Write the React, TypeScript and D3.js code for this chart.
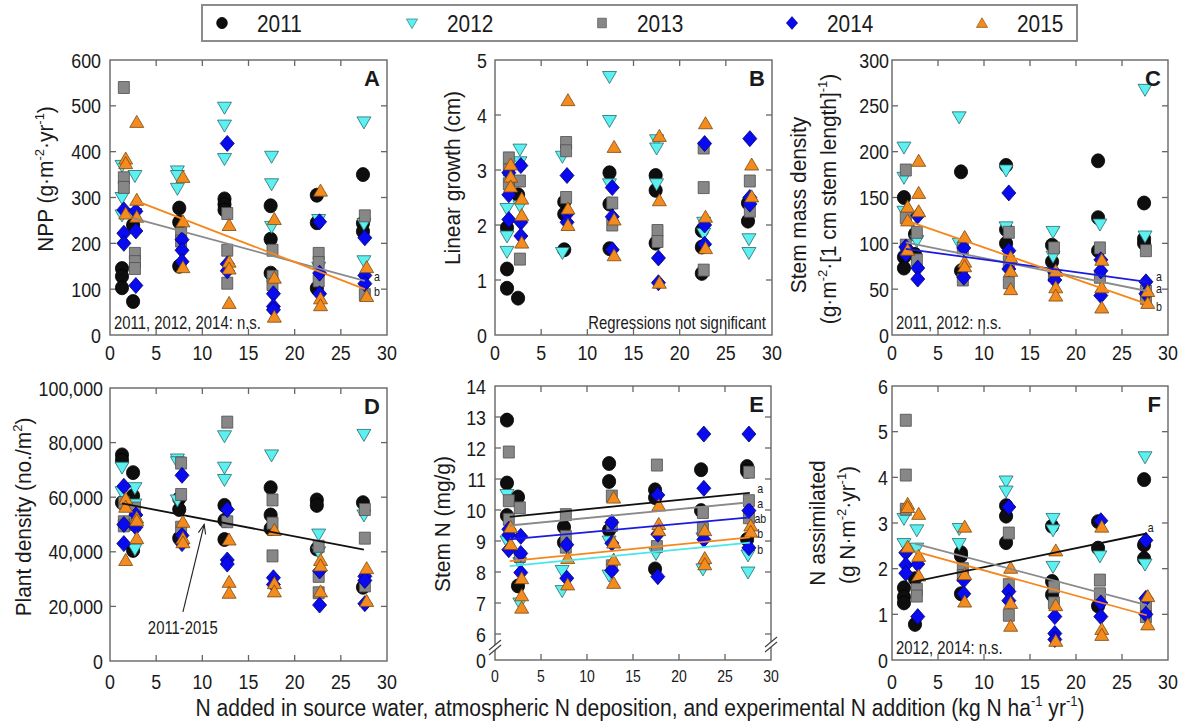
import React from 'react';
import * as d3 from 'd3';

// ---------- data ----------
const YEARS = ['2011', '2012', '2013', '2014', '2015'];

// N input (kg N ha-1 yr-1) of the seven treatment groups, per year
const X_2011 = [1.3, 2.5, 7.5, 12.4, 17.4, 22.4, 27.4];
const X_2012 = [1.3, 2.7, 7.3, 12.4, 17.5, 22.6, 27.5];
const X_2013 = [1.5, 2.7, 7.7, 12.7, 17.6, 22.6, 27.6];
const X_2014 = [1.5, 2.8, 7.8, 12.7, 17.7, 22.7, 27.6];
const X_2015 = [1.7, 2.9, 7.9, 12.9, 17.8, 22.8, 27.8];
const X_BY_YEAR = [X_2011, X_2012, X_2013, X_2014, X_2015];
const X_TICKS = [0, 5, 10, 15, 20, 25, 30];

// A: NPP (g m-2 yr-1), replicate values per group
const NPP_2011 = [[145, 128, 103], [240, 73], [277, 246, 150], [297, 285, 273], [282, 209, 135], [305, 245, 102], [350, 244, 226]];
const NPP_2012 = [[370, 300, 262], [348, 265], [358, 348, 320], [497, 458, 385], [390, 330, 237], [252, 148], [465, 243, 162]];
const NPP_2013 = [[540, 343, 322], [178, 160, 145], [222, 205], [265, 185, 113], [185, 128, 110], [178, 158, 118], [260, 88]];
const NPP_2014 = [[273, 222, 200], [270, 227, 108], [208, 185, 160], [418, 155, 140], [90, 62, 55], [247, 135, 90], [212, 130, 112]];
const NPP_2015 = [[385, 375, 265], [465, 295, 258], [345, 248, 148], [240, 160, 145, 70], [253, 125, 40], [315, 80, 65], [148, 85]];

// B: linear growth (cm)
const LG_2011 = [[1.95, 1.2, 0.85], [2.55, 0.67], [2.42, 2.2, 1.55], [2.95, 2.38, 1.57], [2.9, 2.63, 1.67], [1.9, 1.6, 1.12], [2.4, 2.07]];
const LG_2012 = [[2.3, 1.8, 1.52], [3.38, 3.15, 2.35], [3.25, 1.5], [4.7, 3.9, 2.75], [3.55, 3.4, 2.75], [2.05, 1.85], [1.75, 1.5]];
const LG_2013 = [[3.22, 3.0, 2.75], [2.8, 1.38], [3.5, 3.35, 2.5], [2.4, 2.0], [1.9, 1.7], [3.4, 2.68, 1.18], [2.8, 2.25]];
const LG_2014 = [[2.95, 2.55, 2.1], [3.08, 2.05, 1.8], [2.9, 2.2, 2.05], [2.68, 2.15, 1.55], [1.4, 0.95], [3.48, 2.0, 1.65], [3.57, 2.5, 2.38]];
const LG_2015 = [[3.1, 2.88, 2.7], [2.48, 2.18, 1.68], [4.27, 2.3, 2.0], [3.42, 2.1, 1.45], [3.62, 2.45, 0.95], [3.85, 2.15, 1.58], [3.1, 2.52]];

// C: stem mass density
const SMD_2011 = [[150, 85, 73], [110, 88], [178, 70], [185, 115, 100], [98, 80], [190, 128, 92], [144, 105, 100]];
const SMD_2012 = [[205, 172, 135], [128, 103], [238, 100], [180, 118], [113, 86], [121], [268, 108]];
const SMD_2013 = [[180, 128, 98], [112, 82], [95, 60], [112, 80, 57], [95, 65], [95, 63], [92, 48, 40]];
const SMD_2014 = [[96, 88], [130, 73, 61], [95, 63], [155, 92, 72], [68, 60], [82, 70, 43], [58, 45]];
const SMD_2015 = [[140, 125, 93], [190, 155, 135], [107, 80, 75], [85, 70, 50], [70, 52, 43], [82, 52, 30], [48, 35]];

// D: plant density (no./m2)
const PD_2011 = [[75500, 73500, 58000], [69000, 60500, 40500], [59500, 55500, 45000], [57000, 51500, 44500], [63500, 53500, 48500], [59000, 57000, 41000], [58000, 27000]];
const PD_2012 = [[71000, 62000], [63500, 57500, 41000], [74000, 73000, 59000], [82500, 71000, 66500], [75500], [46500, 40000], [83000, 53500]];
const PD_2013 = [[58000, 51000, 49500], [56000, 50000], [72500, 61000, 49000], [87500, 51000], [59000, 50500, 38500], [42000, 31000, 25000], [55500, 45000, 27500]];
const PD_2014 = [[64000, 50000, 43000], [53500, 49000], [68000, 46000, 43000], [55500, 37000, 35500], [30500, 28000], [33000, 20500], [31000, 29500, 21000]];
const PD_2015 = [[59500, 56500, 37000], [52500, 51500, 45000], [51000, 45000, 43500], [44500, 29000, 25000], [48000, 28500, 25500], [37000, 35000, 25500], [34000, 22000]];

// E: stem N (mg/g)
const SN_2011 = [[12.9, 10.87, 9.82], [10.42, 7.55], [9.45, 8.95], [11.5, 10.92, 9.35], [10.65, 10.4, 8.1], [11.3, 9.98], [11.4, 11.25, 9.05]];
const SN_2012 = [[10.5, 9.0], [8.3, 7.0], [8.05, 7.4], [9.0, 7.9], [8.6], [9.1, 8.1], [8.55, 8.0]];
const SN_2013 = [[11.87, 10.3, 9.7], [10.07, 8.5], [9.85, 9.15, 8.8], [10.45, 9.5, 8.2], [11.45, 8.82], [9.92, 9.4], [11.22, 10.3, 9.75]];
const SN_2014 = [[9.38, 9.2, 8.72], [9.15, 8.6, 7.98], [8.88, 7.8], [9.6, 8.93, 8.05], [10.48, 9.22, 7.85], [12.45, 10.7, 9.05], [12.45, 9.98, 8.78]];
const SN_2015 = [[9.45, 8.9], [7.8, 7.25, 6.85], [8.45, 7.6], [10.4, 8.95, 8.4, 7.65], [10.15, 9.55, 9.35], [9.35, 8.45, 8.25], [9.5, 9.3]];

// F: N assimilated (g N m-2 yr-1)
const NA_2011 = [[1.58, 1.38, 1.25], [1.78, 0.78], [2.35, 2.28, 1.45], [3.38, 3.15, 2.57], [2.93, 1.72, 1.43], [3.03, 2.45, 1.18], [3.95, 2.52, 2.22]];
const NA_2012 = [[3.1, 2.55], [2.85, 2.45], [2.88, 2.55], [3.92, 3.7], [3.1, 2.85, 2.05], [2.28], [4.45, 2.1]];
const NA_2013 = [[5.25, 4.05, 3.3], [1.55, 1.4], [2.0, 1.85], [2.78, 1.65, 0.98], [1.6, 1.25], [1.75, 1.45], [1.2, 0.95]];
const NA_2014 = [[2.35, 2.08, 1.9], [2.1, 0.95], [1.75, 1.45], [3.35, 1.5, 1.3], [0.95, 0.58, 0.45], [3.05, 1.25, 0.95], [2.62, 1.35, 1.0]];
const NA_2015 = [[3.42, 3.35, 2.48], [3.2, 2.28, 1.85], [2.92, 1.88, 1.28], [2.02, 1.25, 0.75], [2.4, 1.2, 0.42], [2.92, 0.68, 0.55], [1.4, 0.78]];

// fitted regression lines: [series, x0, y0, x1, y1]
type Fit = [string, number, number, number, number];
const FIT_A: Fit[] = [['2013', 2.5, 255, 27.6, 118], ['2015', 2.9, 292, 27.6, 100]];
const FIT_C: Fit[] = [['2013', 1.5, 101, 27.7, 48], ['2014', 1.5, 94, 27.7, 58], ['2015', 1.5, 125, 27.7, 34]];
const FIT_D: Fit[] = [['all', 1.3, 57700, 27.5, 40800]];
const FIT_E: Fit[] = [['2011', 1.6, 9.78, 27.7, 10.55], ['2013', 1.6, 9.5, 27.7, 10.25], ['2014', 1.6, 9.05, 27.7, 9.76], ['2015', 1.6, 8.35, 27.7, 9.12], ['2012', 1.6, 8.19, 27.7, 8.95]];
const FIT_F: Fit[] = [['2011', 2.3, 1.71, 27.7, 2.77], ['2013', 2.5, 2.55, 27.7, 1.2], ['2015', 2.5, 2.38, 27.7, 0.98]];

// significance letters: [text, x, y]
type Lt = [string, number, number];
const LET_A: Lt[] = [['a', 28.6, 126], ['b', 28.6, 94]];
const LET_C: Lt[] = [['a', 28.7, 63], ['a', 28.7, 50], ['b', 28.7, 31]];
const LET_E: Lt[] = [['a', 28.5, 10.68], ['a', 28.5, 10.2], ['ab', 28.2, 9.71], ['b', 28.5, 9.22], ['b', 28.5, 8.7]];
const LET_F: Lt[] = [['a', 27.8, 2.9]];

// ---------- styles ----------
const FONT = '"Liberation Sans", Arial, Helvetica, sans-serif';
const TXT = '#1a1a1a';
const FRAME = '#666666';
const MARK: Record<string, { shape: string; fill: string; stroke: string }> = {
  '2011': { shape: 'circle', fill: '#0e0e0e', stroke: '#000000' },
  '2012': { shape: 'tdown', fill: '#5cf0f0', stroke: '#2a6a6c' },
  '2013': { shape: 'square', fill: '#878787', stroke: '#4e4e4e' },
  '2014': { shape: 'diamond', fill: '#0a0aee', stroke: '#000070' },
  '2015': { shape: 'tup', fill: '#f38b1f', stroke: '#7a4a12' },
};
const LINE: Record<string, string> = {
  '2011': '#111111', '2012': '#49e6ea', '2013': '#8a8a8a', '2014': '#1a1ae0', '2015': '#f5871a', all: '#111111',
};

function Marker({ year, cx, cy, k = 1 }: { year: string; cx: number; cy: number; k?: number }) {
  const m = MARK[year];
  const common = { fill: m.fill, stroke: m.stroke, strokeWidth: 0.8 };
  const t = `translate(${cx},${cy}) scale(${k})`;
  switch (m.shape) {
    case 'circle':
      return <ellipse cx={cx} cy={cy} rx={6.6 * k} ry={7 * k} {...common} />;
    case 'tdown':
      return <path transform={t} d="M-7,-5L7,-5L0,7Z" {...common} />;
    case 'square':
      return <path transform={t} d="M-5.5,-6L5.5,-6L5.5,6L-5.5,6Z" {...common} />;
    case 'diamond':
      return <path transform={t} d="M0,-8L7,0L0,8L-7,0Z" {...common} />;
    default:
      return <path transform={t} d="M-7,5.5L7,5.5L0,-6.5Z" {...common} />;
  }
}

type Seg = { t: string; sup?: boolean };
function Rich({ parts, size }: { parts: Seg[]; size: number }) {
  const shift = size * 0.42;
  let up = false;
  return (
    <>
      {parts.map((p, i) => {
        if (p.sup) {
          const el = <tspan key={i} dy={up ? 0 : -shift} fontSize={size * 0.62}>{p.t}</tspan>;
          up = true;
          return el;
        }
        const el = <tspan key={i} dy={up ? shift : 0} fontSize={size}>{p.t}</tspan>;
        up = false;
        return el;
      })}
    </>
  );
}

function HT({ x, y, size, anchor = 'start', weight = 'normal', sx = 0.85, children }: any) {
  return (
    <text transform={`translate(${x},${y}) scale(${sx},1)`} fontSize={size} textAnchor={anchor}
      fontWeight={weight} fill={TXT}>{children}</text>
  );
}
function VT({ x, y, size, sx = 0.95, parts }: { x: number; y: number; size: number; sx?: number; parts: Seg[] }) {
  return (
    <text transform={`translate(${x},${y}) rotate(-90) scale(${sx},1)`} fontSize={size} textAnchor="middle" fill={TXT}>
      <Rich parts={parts} size={size} />
    </text>
  );
}

const PANELS: any[] = [
  {
    key: 'A', left: 110, right: 387, top: 60, bottom: 335, domain: [0, 600], ticks: [0, 100, 200, 300, 400, 500, 600],
    fmt: (d: number) => String(d), gap: 9, series: [NPP_2011, NPP_2012, NPP_2013, NPP_2014, NPP_2015],
    fits: FIT_A, letters: LET_A, xBase: 360, xSize: 21,
    titles: [{ x: 53, y: 179, parts: [{ t: 'NPP (g·m' }, { t: '-2', sup: true }, { t: '·yr' }, { t: '-1', sup: true }, { t: ')' }] }],
    note: { text: '2011, 2012, 2014: n.s.', anchor: 'start' },
  },
  {
    key: 'B', left: 495, right: 772, top: 60, bottom: 335, domain: [0, 5], ticks: [0, 1, 2, 3, 4, 5],
    fmt: (d: number) => String(d), gap: 8, series: [LG_2011, LG_2012, LG_2013, LG_2014, LG_2015],
    fits: [], letters: [], xBase: 360, xSize: 21,
    titles: [{ x: 460, y: 178, parts: [{ t: 'Linear growth (cm)' }] }],
    note: { text: 'Regressions not significant', anchor: 'end' },
  },
  {
    key: 'C', left: 892, right: 1168, top: 60, bottom: 335, domain: [0, 300], ticks: [0, 50, 100, 150, 200, 250, 300],
    fmt: (d: number) => String(d), gap: 3, series: [SMD_2011, SMD_2012, SMD_2013, SMD_2014, SMD_2015],
    fits: FIT_C, letters: LET_C, xBase: 360, xSize: 21,
    titles: [
      { x: 806, y: 205, parts: [{ t: 'Stem mass density' }] },
      { x: 836, y: 199, parts: [{ t: '(g·m' }, { t: '-2', sup: true }, { t: '·[1 cm stem length]' }, { t: '-1', sup: true }, { t: ')' }] },
    ],
    note: { text: '2011, 2012: n.s.', anchor: 'start' },
  },
  {
    key: 'D', left: 110, right: 387, top: 388, bottom: 661, domain: [0, 100000], ticks: [0, 20000, 40000, 60000, 80000, 100000],
    fmt: d3.format(','), gap: 7, series: [PD_2011, PD_2012, PD_2013, PD_2014, PD_2015],
    fits: FIT_D, letters: [], xBase: 689, xSize: 21,
    titles: [{ x: 31, y: 517, parts: [{ t: 'Plant density (no./m' }, { t: '2', sup: true }, { t: ')' }] }],
    arrow: { text: '2011-2015', tx: 4.1, ty: 9800, x0: 7.9, y0: 18000, x1: 10.2, y1: 50000 },
  },
  {
    key: 'E', left: 495, right: 771, top: 386, bottom: 660, breakY: 634, broken: true,
    ticks: [0, 6, 7, 8, 9, 10, 11, 12, 13, 14],
    fmt: (d: number) => String(d), gap: 9, series: [SN_2011, SN_2012, SN_2013, SN_2014, SN_2015],
    fits: FIT_E, letters: LET_E, xBase: 682, xSize: 16.5,
    titles: [{ x: 450, y: 524, parts: [{ t: 'Stem N (mg/g)' }] }],
  },
  {
    key: 'F', left: 892, right: 1168, top: 386, bottom: 660, domain: [0, 6], ticks: [0, 1, 2, 3, 4, 5, 6],
    fmt: (d: number) => String(d), gap: 4, series: [NA_2011, NA_2012, NA_2013, NA_2014, NA_2015],
    fits: FIT_F, letters: LET_F, xBase: 689, xSize: 21,
    titles: [
      { x: 825, y: 523, parts: [{ t: 'N assimilated' }] },
      { x: 855, y: 525, parts: [{ t: '(g N·m' }, { t: '-2', sup: true }, { t: '·yr' }, { t: '-1', sup: true }, { t: ')' }] },
    ],
    note: { text: '2012, 2014: n.s.', anchor: 'start' },
  },
];

function Panel({ p }: { p: any }) {
  const x = d3.scaleLinear().domain([0, 30]).range([p.left, p.right]);
  let y: (v: number) => number;
  if (p.broken) {
    const lin = d3.scaleLinear().domain([6, 14]).range([p.breakY, p.top]);
    y = (v: number) => (v < 6 ? p.bottom - ((p.bottom - p.breakY) * v) / 6 : lin(v));
  } else {
    const lin = d3.scaleLinear().domain(p.domain).range([p.bottom, p.top]);
    y = (v: number) => lin(v);
  }
  const TL = 6;
  const points: any[] = [];
  p.series.forEach((groups: number[][], yi: number) => {
    groups.forEach((vals, gi) => {
      vals.forEach((v, k) => {
        points.push(<Marker key={`${yi}-${gi}-${k}`} year={YEARS[yi]} cx={x(X_BY_YEAR[yi][gi])} cy={y(v)} />);
      });
    });
  });
  const line = d3.line<[number, number]>().x((d) => x(d[0])).y((d) => y(d[1]));

  let arrowEl = null;
  if (p.arrow) {
    const a = p.arrow;
    const ax0 = x(a.x0), ay0 = y(a.y0), ax1 = x(a.x1), ay1 = y(a.y1);
    const ang = Math.atan2(ay1 - ay0, ax1 - ax0);
    const hl = 10, spread = 0.38;
    const h1 = [ax1 - hl * Math.cos(ang - spread), ay1 - hl * Math.sin(ang - spread)];
    const h2 = [ax1 - hl * Math.cos(ang + spread), ay1 - hl * Math.sin(ang + spread)];
    arrowEl = (
      <g stroke="#222" strokeWidth={1.1} fill="none">
        <line x1={ax0} y1={ay0} x2={ax1} y2={ay1} />
        <polyline points={`${h1[0]},${h1[1]} ${ax1},${ay1} ${h2[0]},${h2[1]}`} />
        <g stroke="none">
          <HT x={x(a.tx)} y={y(a.ty)} size={17.5}>{a.text}</HT>
        </g>
      </g>
    );
  }

  return (
    <g>
      <rect x={p.left} y={p.top} width={p.right - p.left} height={p.bottom - p.top} fill="none" stroke={FRAME} strokeWidth={1.4} />
      <g stroke={FRAME} strokeWidth={1.3}>
        {X_TICKS.slice(1, -1).map((t) => (
          <g key={`xt${t}`}>
            <line x1={x(t)} x2={x(t)} y1={p.bottom} y2={p.bottom - TL} />
            <line x1={x(t)} x2={x(t)} y1={p.top} y2={p.top + TL} />
          </g>
        ))}
        {p.ticks.filter((t: number) => y(t) > p.top + 1 && y(t) < p.bottom - 1).map((t: number) => (
          <g key={`yt${t}`}>
            <line x1={p.left} x2={p.left + TL} y1={y(t)} y2={y(t)} />
            <line x1={p.right} x2={p.right - TL} y1={y(t)} y2={y(t)} />
          </g>
        ))}
      </g>
      {p.broken && (
        <g>
          <polygon points={`${p.left - 6},${650} ${p.left + 6},${640} ${p.left + 6},${645} ${p.left - 6},${655}`} fill="#fff" />
          <line x1={p.left - 6} y1={650} x2={p.left + 6} y2={640} stroke="#444" strokeWidth={1.2} />
          <line x1={p.left - 6} y1={655} x2={p.left + 6} y2={645} stroke="#444" strokeWidth={1.2} />
          <polygon points={`${p.right - 6},${647} ${p.right + 6},${637} ${p.right + 6},${642} ${p.right - 6},${652}`} fill="#fff" />
          <line x1={p.right - 6} y1={647} x2={p.right + 6} y2={637} stroke="#444" strokeWidth={1.2} />
          <line x1={p.right - 6} y1={652} x2={p.right + 6} y2={642} stroke="#444" strokeWidth={1.2} />
        </g>
      )}
      {X_TICKS.map((t) => (
        <HT key={`xl${t}`} x={x(t)} y={p.xBase} size={p.xSize} anchor="middle">{String(t)}</HT>
      ))}
      {p.ticks.map((t: number) => (
        <HT key={`yl${t}`} x={p.left - p.gap} y={y(t) + 7.5} size={21} anchor="end">{p.fmt(t)}</HT>
      ))}
      <g>{points}</g>
      {p.fits.map((f: Fit, i: number) => (
        <path key={`f${i}`} d={line([[f[1], f[2]], [f[3], f[4]]]) || ''} stroke={LINE[f[0]]} strokeWidth={1.8} fill="none" />
      ))}
      {p.letters.map((l: Lt, i: number) => (
        <HT key={`l${i}`} x={x(l[1])} y={y(l[2]) + 4} size={12.5}>{l[0]}</HT>
      ))}
      <HT x={p.right - 7} y={p.top + 26} size={22} anchor="end" weight="bold" sx={1}>{p.key}</HT>
      {p.note && (
        <HT x={p.note.anchor === 'start' ? p.left + 4 : p.right - 6} y={p.bottom - 6} size={17.5} anchor={p.note.anchor}>{p.note.text}</HT>
      )}
      {arrowEl}
      {p.titles.map((tt: any, i: number) => (
        <VT key={`tt${i}`} x={tt.x} y={tt.y} size={22} parts={tt.parts} />
      ))}
    </g>
  );
}

function Legend() {
  const left = 202, right = 1077, top = 5, bottom = 41;
  return (
    <g>
      <rect x={left} y={top} width={right - left} height={bottom - top} fill="#fff" stroke="#8c8c8c" strokeWidth={2} />
      {YEARS.map((yr, i) => (
        <g key={yr}>
          <Marker year={yr} cx={222 + i * 190} cy={23} k={0.8} />
          <HT x={257 + i * 190} y={32} size={24.5}>{yr}</HT>
        </g>
      ))}
    </g>
  );
}

export default function App() {
  return (
    <div style={{ position: 'absolute', left: 0, top: 0 }}>
      <svg width={1185} height={724} viewBox="0 0 1185 724" fontFamily={FONT} style={{ display: 'block', background: '#fff' }}>
        <rect x={0} y={0} width={1185} height={724} fill="#fff" />
        {PANELS.map((p) => (
          <Panel key={p.key} p={p} />
        ))}
        <Legend />
        <text transform="translate(640,716) scale(0.86,1)" fontSize={24.5} textAnchor="middle" fill={TXT}>
          <Rich
            parts={[
              { t: 'N added in source water, atmospheric N deposition, and experimental N addition (kg N ha' },
              { t: '-1', sup: true },
              { t: ' yr' },
              { t: '-1', sup: true },
              { t: ')' },
            ]}
            size={24.5}
          />
        </text>
      </svg>
    </div>
  );
}
